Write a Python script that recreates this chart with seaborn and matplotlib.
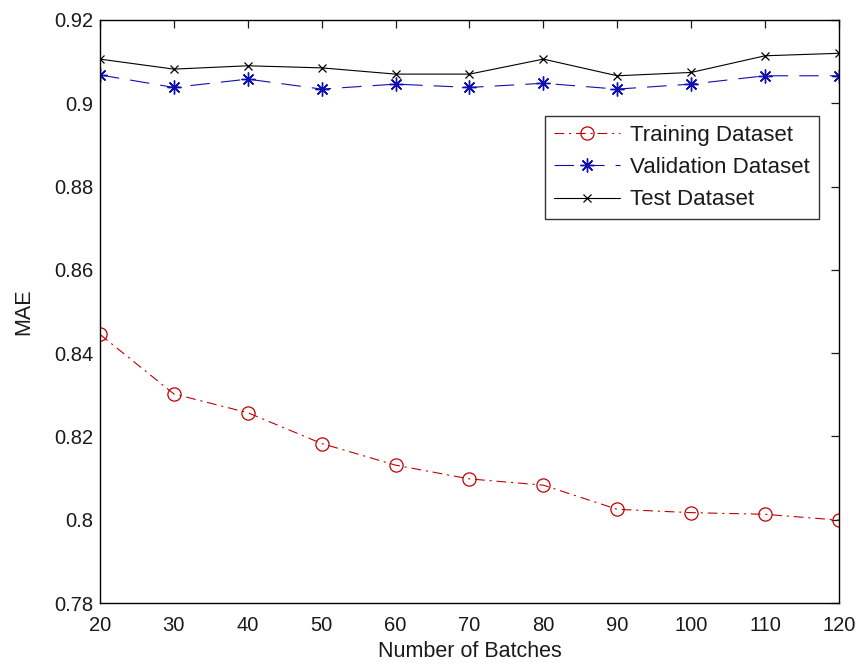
import matplotlib
matplotlib.use("Agg")
import matplotlib.pyplot as plt
import seaborn as sns
from matplotlib.ticker import FuncFormatter

batches = [20, 30, 40, 50, 60, 70, 80, 90, 100, 110, 120]
train_mae = [0.8445, 0.8302, 0.8257, 0.8183, 0.8131, 0.8098, 0.8083, 0.8025, 0.8017, 0.8013, 0.7999]
valid_mae = [0.9068, 0.9038, 0.9058, 0.9034, 0.9046, 0.9038, 0.9048, 0.9034, 0.9046, 0.9066, 0.9066]
test_mae = [0.9106, 0.9082, 0.9090, 0.9085, 0.9070, 0.9070, 0.9106, 0.9066, 0.9074, 0.9114, 0.9120]
series_names = ["Training Dataset", "Validation Dataset", "Test Dataset"]
x_ticks = [20, 30, 40, 50, 60, 70, 80, 90, 100, 110, 120]
y_ticks = [0.78, 0.80, 0.82, 0.84, 0.86, 0.88, 0.90, 0.92]

sns.set_theme(style="white")
plt.rcParams["font.family"] = ["Liberation Sans", "DejaVu Sans"]
plt.rcParams["lines.scale_dashes"] = False
plt.rcParams["text.color"] = "#1a1a1a"
plt.rcParams["axes.labelcolor"] = "#1a1a1a"

fig = plt.figure(figsize=(8.61, 6.68), dpi=100)
ax = fig.add_axes([0.1161, 0.0973, 0.8583, 0.8728])

red = "#c00000"
blue = "#1010b0"

sns.lineplot(x=batches, y=train_mae, ax=ax, color=red, lw=0.8,
             linestyle=(0, (7, 3.5, 1.5, 3.5)), marker="o", markersize=9.5,
             markerfacecolor="none", markeredgecolor=red, markeredgewidth=0.9,
             label=series_names[0])
sns.lineplot(x=batches, y=valid_mae, ax=ax, color=blue, lw=0.8,
             linestyle=(0, (14, 8)), marker=(8, 2, 0), markersize=10,
             markeredgecolor=blue, markerfacecolor=blue, markeredgewidth=1.0,
             label=series_names[1])
sns.lineplot(x=batches, y=test_mae, ax=ax, color="black", lw=0.8,
             linestyle="-", marker="x", markersize=5.5,
             markeredgecolor="black", markeredgewidth=0.9,
             label=series_names[2])

ax.set_xlim(20, 120)
ax.set_ylim(0.78, 0.92)
ax.set_xticks(x_ticks)
ax.set_yticks(y_ticks)
ax.yaxis.set_major_formatter(FuncFormatter(lambda v, p: f"{v:g}"))
ax.tick_params(direction="in", length=6, width=0.9, top=True, right=True,
               labelsize=14.5, colors="#1a1a1a", pad=5)
ax.tick_params(axis="x", pad=9)
for s in ax.spines.values():
    s.set_visible(True)
    s.set_color("black")
    s.set_linewidth(1.0)

ax.set_xlabel("Number of Batches", fontsize=15.5, labelpad=5)
ax.set_ylabel("MAE", fontsize=15.5, labelpad=14)

leg = ax.legend(loc="upper right", bbox_to_anchor=(0.973, 0.835), borderaxespad=0,
                fontsize=16, frameon=True, fancybox=False, shadow=False,
                handlelength=3.0, handletextpad=0.45, labelspacing=0.5,
                borderpad=0.4)
leg.get_frame().set_edgecolor("black")
leg.get_frame().set_linewidth(1.0)

fig.savefig("out.png", dpi=100, facecolor="white")
